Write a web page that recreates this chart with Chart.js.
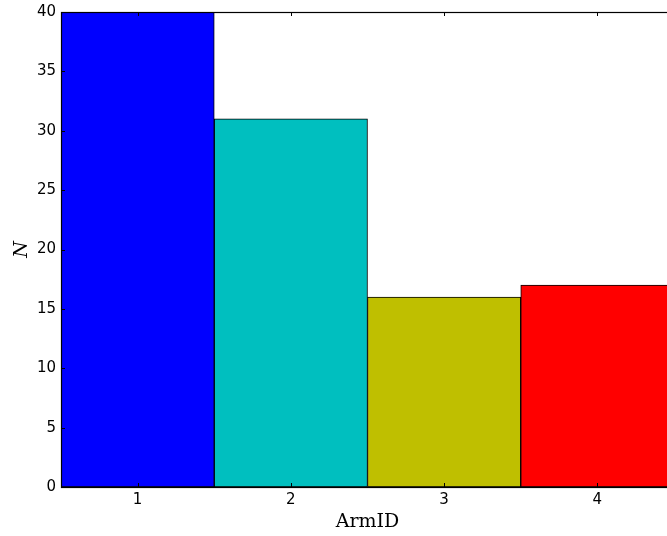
<!DOCTYPE html>
<html>
<head>
<meta charset="utf-8">
<script src="https://cdn.jsdelivr.net/npm/chart.js@4/dist/chart.umd.min.js"></script>
<style>
  html, body { margin: 0; padding: 0; background: #fff; overflow: hidden; }
  #wrap { width: 674px; height: 536px; }
</style>
</head>
<body>
<div id="wrap"><canvas id="c" width="674" height="536"></canvas></div>
<script>
// Counts per arm
const armIds = ['1', '2', '3', '4'];
const counts = [40, 31, 16, 17];
const barColors = ['#0000ff', '#00bfbf', '#bfbf00', '#ff0000'];
const yTicks = [0, 5, 10, 15, 20, 25, 30, 35, 40];

// Frame around the plot area plus inward-pointing tick marks on all sides
const frameAndTicks = {
  id: 'frameAndTicks',
  afterDatasetsDraw(chart) {
    const { ctx, chartArea: a, scales } = chart;
    const len = 4;
    ctx.save();
    ctx.strokeStyle = '#000';
    ctx.lineWidth = 1;
    ctx.beginPath();
    scales.x.ticks.forEach((t, i) => {
      const x = Math.round(scales.x.getPixelForTick(i)) + 0.5;
      ctx.moveTo(x, a.bottom); ctx.lineTo(x, a.bottom - len);
      ctx.moveTo(x, a.top); ctx.lineTo(x, a.top + len);
    });
    scales.y.ticks.forEach(t => {
      const y = Math.round(scales.y.getPixelForValue(t.value)) + 0.5;
      ctx.moveTo(a.left, y); ctx.lineTo(a.left + len, y);
      ctx.moveTo(a.right, y); ctx.lineTo(a.right - len, y);
    });
    ctx.stroke();
    ctx.lineWidth = 1.2;
    ctx.strokeRect(Math.round(a.left) + 0.5, Math.round(a.top) + 0.5,
                   Math.round(a.right - a.left), Math.round(a.bottom - a.top));
    ctx.restore();
  }
};

new Chart(document.getElementById('c'), {
  type: 'bar',
  data: {
    labels: armIds,
    datasets: [{
      data: counts,
      backgroundColor: barColors,
      borderColor: '#000',
      borderWidth: 1,
      borderSkipped: false,
      barPercentage: 1,
      categoryPercentage: 1
    }]
  },
  options: {
    responsive: false,
    animation: false,
    devicePixelRatio: 1,
    layout: { padding: { top: 12, right: 0, left: 0, bottom: 0 } },
    plugins: { legend: { display: false }, tooltip: { enabled: false } },
    scales: {
      x: {
        offset: true,
        grid: { display: false, drawTicks: false },
        border: { display: false },
        ticks: { color: '#000', font: { family: 'DejaVu Sans', size: 15 }, padding: 4, maxRotation: 0 },
        title: {
          display: true, text: 'ArmID', color: '#000',
          font: { family: 'DejaVu Serif', size: 19 }, padding: { top: 0, bottom: 3 }
        },
        afterFit(s) { s.height = 49; s.paddingLeft = 0; s.paddingRight = 0; }
      },
      y: {
        min: 0, max: 40,
        afterBuildTicks(s) { s.ticks = yTicks.map(v => ({ value: v })); },
        grid: { display: false, drawTicks: false },
        border: { display: false },
        ticks: { color: '#000', font: { family: 'DejaVu Sans', size: 15 }, padding: 5 },
        title: {
          display: true, text: 'N', color: '#000',
          font: { family: 'DejaVu Serif', size: 19, style: 'italic' }, padding: { top: 11, bottom: 0 }
        },
        afterFit(s) { s.width = 61; s.paddingTop = 0; s.paddingBottom = 0; }
      }
    }
  },
  plugins: [frameAndTicks]
});
</script>
</body>
</html>
